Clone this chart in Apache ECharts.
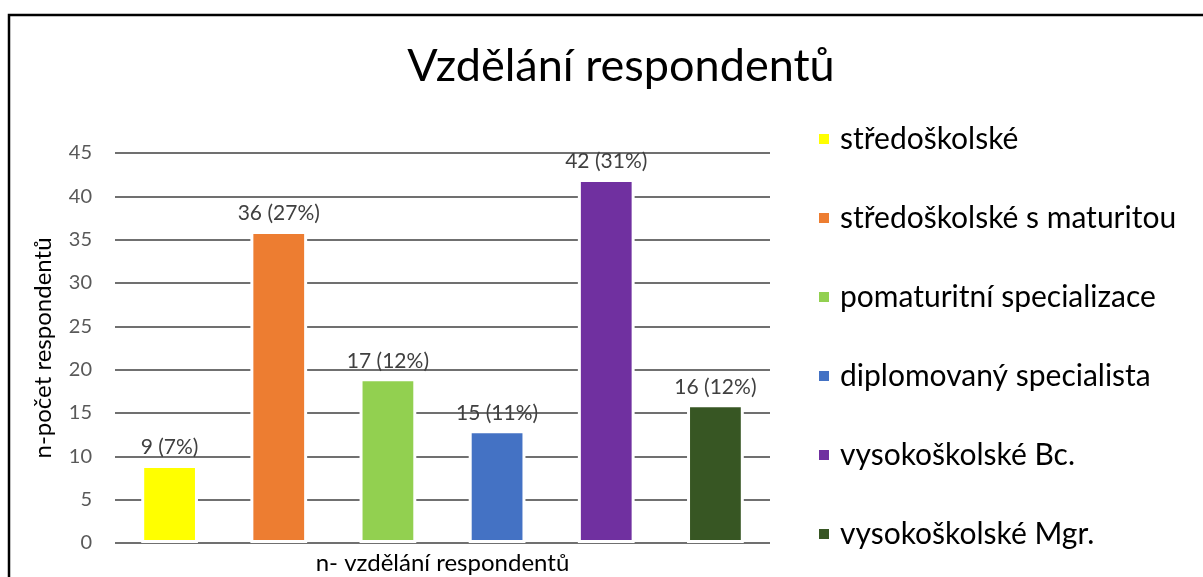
<!DOCTYPE html>
<html>
<head>
<meta charset="utf-8">
<script src="https://cdn.jsdelivr.net/npm/echarts@6/dist/echarts.min.js"></script>
<style>
  html, body { margin: 0; padding: 0; background: #fff; }
  #chart { width: 1203px; height: 577px; }
</style>
</head>
<body>
<div id="chart"></div>
<script>
// kategorie vzdělání
const categories = [
  'středoškolské',
  'středoškolské s maturitou',
  'pomaturitní specializace',
  'diplomovaný specialista',
  'vysokoškolské Bc.',
  'vysokoškolské Mgr.'
]
// výšky sloupců
const values = [9, 36, 19, 13, 42, 16]
// popisky nad sloupci (tak jak jsou v originále)
const labels = ['9 (7%)', '36 (27%)', '17 (12%)', '15 (11%)', '42 (31%)', '16 (12%)']
const colors = ['#FFFF00', '#ED7D31', '#92D050', '#4472C4', '#7030A0', '#375623']

const font = 'Lato, "Noto Sans", sans-serif'

const chart = echarts.init(document.getElementById('chart'))

// jedna série na kategorii, aby legenda ukazovala každou kategorii
const series = categories.map((name, i) => ({
  name: name,
  type: 'bar',
  barWidth: '52%',
  barGap: '-100%',
  data: values.map((v, j) => (j === i ? v : '-')),
  itemStyle: {
    color: colors[i],
    borderColor: '#fff',
    borderWidth: 3
  },
  label: {
    show: true,
    position: 'top',
    distance: 7,
    color: '#404040',
    fontSize: 21,
    fontFamily: font,
    formatter: () => labels[i]
  }
}))

chart.setOption({
  animation: false,
  color: colors,
  title: {
    text: 'Vzdělání respondentů',
    left: 616,
    top: 39,
    textAlign: 'center',
    textStyle: {
      fontSize: 45,
      fontWeight: 'normal',
      color: '#000',
      fontFamily: font
    }
  },
  legend: {
    orient: 'vertical',
    left: 812,
    top: 119,
    itemGap: 49,
    itemWidth: 12,
    itemHeight: 12,
    icon: 'rect',
    textStyle: {
      fontSize: 30,
      lineHeight: 30,
      color: '#000',
      fontFamily: font,
      padding: [0, 0, 0, 5]
    },
    data: categories
  },
  grid: {
    left: 115,
    right: 433,
    top: 153,
    bottom: 34,
    outerBoundsMode: 'none'
  },
  xAxis: {
    type: 'category',
    data: categories,
    axisLine: { show: false },
    axisTick: { show: false },
    axisLabel: { show: false },
    name: 'n- vzdělání respondentů',
    nameLocation: 'middle',
    nameGap: 8,
    nameTextStyle: {
      fontSize: 24,
      color: '#000',
      fontFamily: font
    }
  },
  yAxis: {
    type: 'value',
    min: 0,
    max: 45,
    interval: 5,
    axisLine: { show: false },
    axisTick: { show: false },
    axisLabel: {
      margin: 23,
      fontSize: 20,
      color: '#595959',
      fontFamily: font
    },
    splitLine: {
      lineStyle: { color: '#404040', width: 1.5 }
    },
    name: 'n-počet respondentů',
    nameLocation: 'middle',
    nameGap: 60,
    nameTextStyle: {
      fontSize: 24,
      color: '#000',
      fontFamily: font
    }
  },
  graphic: [{
    type: 'rect',
    shape: { x: 9, y: 15, width: 1400, height: 800 },
    style: { fill: 'none', stroke: '#000', lineWidth: 2.5 },
    silent: true
  }],
  series: series
})
</script>
</body>
</html>
